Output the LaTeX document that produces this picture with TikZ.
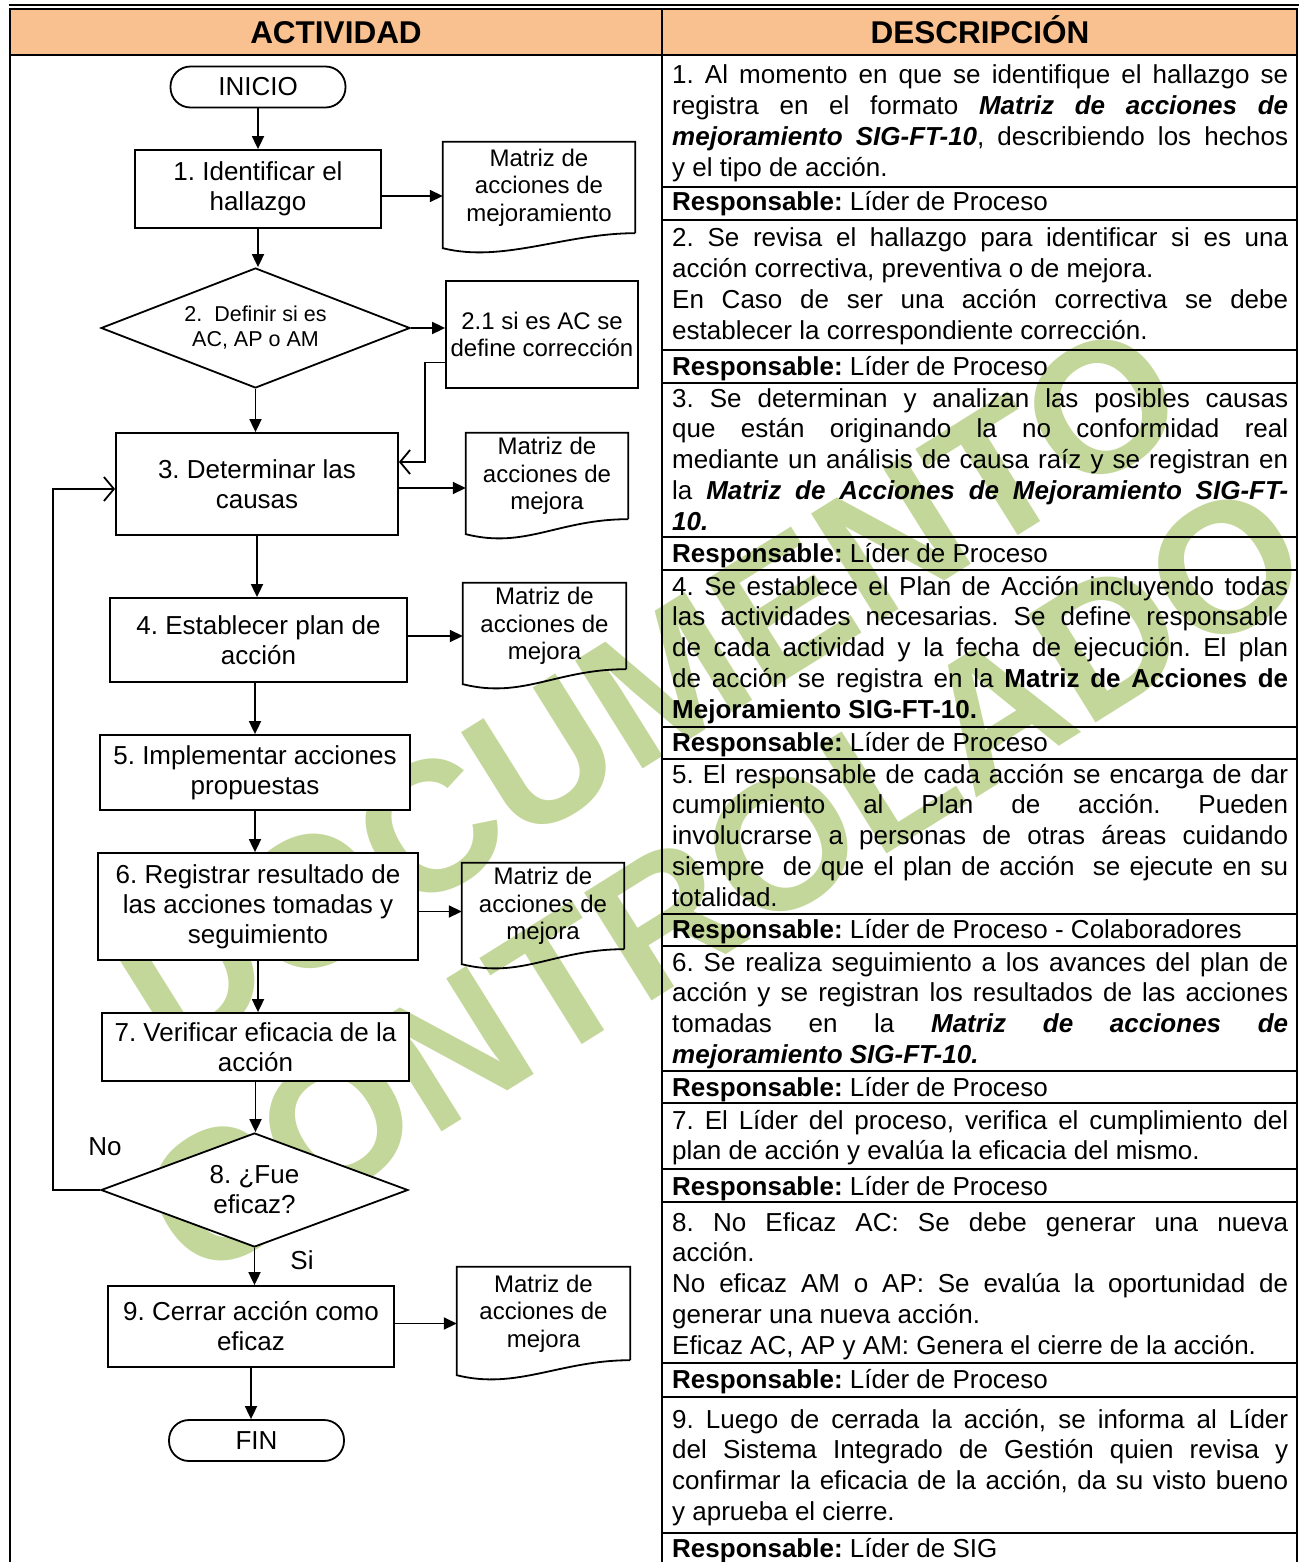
\documentclass[tikz,border=0pt]{standalone}
\usepackage{fontspec}
\setmainfont{Liberation Sans}
\usetikzlibrary{shapes.geometric,arrows.meta}
\definecolor{encabezado}{RGB}{248,193,143}
\definecolor{marca}{RGB}{196,215,155}
\frenchspacing

\newcommand{\documento}[1]{%
	\draw[line width=1.8] (#1.south east) -- (#1.north east) -- (#1.north west) -- ([yshift=-15pt]#1.south west) .. controls +(60,15) and +(-70,0) .. (#1.south east);}

\begin{document}
\begin{tikzpicture}[x=1pt,y=-1pt,
		flujo/.style={font=\fontsize{26}{30}\selectfont, align=center, inner sep=0pt},
		proceso/.style={flujo, draw, fill=white, line width=1.8, rectangle},
		terminal/.style={flujo, draw, fill=white, line width=1.8, rounded corners=20pt, minimum width=175pt, minimum height=41pt},
		decision/.style={flujo, draw, fill=white, line width=1.8, diamond, shape aspect=2.6},
		docu/.style={flujo, font=\fontsize{24}{27.5}\selectfont},
		flecha/.style={line width=1.8, -{Triangle[length=13pt,width=12pt]}},
		retorno/.style={line width=1.8, -{Straight Barb[length=10pt,width=24pt]}},
		cabecera/.style={font=\bfseries\fontsize{31.5}{34}\selectfont, inner sep=0pt, anchor=base},
		desc/.style={anchor=base west, inner sep=0pt, text width=616pt, align=justify, font=\fontsize{26}{30.8}\selectfont}]
	\useasboundingbox (0,0) rectangle (1299,1562);
	
	\node[rotate=32, text=marca, font=\bfseries\fontsize{185}{185}\selectfont] (wm1) at (650,690) {DOCUMENTO};
	\node[rotate=32, text=marca, font=\bfseries\fontsize{185}{185}\selectfont] (wm2) at (725,880) {CONTROLADO};
	
	\fill[encabezado] (10,9) rectangle (1297,55);
	\node[cabecera] (h1) at (336,44) {ACTIVIDAD};
	\node[cabecera] (h2) at (980,44) {DESCRIPCIÓN};
	\draw[line width=2] (9,5.5) -- (1299,5.5);
	\draw[line width=2] (10,1562) -- (10,9) -- (1297,9) -- (1297,1562);
	\draw[line width=2.5] (10,55) -- (1297,55);
	\draw[line width=2] (662,9) -- (662,1562);
	\foreach \y in {187,220,350,383,537,570,727,759,914,946,1071,1103,1169,1202,1363,1397,1533}
		\draw[line width=2] (662,\y) -- (1297,\y);
	
	\node[terminal] (ini) at (258,87) {INICIO};
	\node[proceso, minimum width=246pt, minimum height=78pt] (p1) at (258,189) {1. Identificar el\\hallazgo};
	\node[docu, minimum width=192pt, minimum height=91pt] (m1) at (539,187.5) {Matriz de\\acciones de\\mejoramiento};
	\documento{m1}
	\node[decision, font=\fontsize{21.5}{25}\selectfont, minimum width=309pt, minimum height=120pt] (d2) at (255.5,328) {2.\ \ Definir si es\\AC, AP o AM};
	\node[proceso, font=\fontsize{24}{27.5}\selectfont, minimum width=192pt, minimum height=107pt] (p21) at (542,334.5) {2.1 si es AC se\\define corrección};
	\node[proceso, minimum width=282pt, minimum height=102pt] (p3) at (257,484) {3. Determinar las\\causas};
	\node[docu, minimum width=162pt, minimum height=86pt] (m3) at (547,476) {Matriz de\\acciones de\\mejora};
	\documento{m3}
	\node[proceso, minimum width=297pt, minimum height=84pt] (p4) at (258.5,640) {4. Establecer plan de\\acción};
	\node[docu, minimum width=163pt, minimum height=86pt] (m4) at (544.5,626) {Matriz de\\acciones de\\mejora};
	\documento{m4}
	\node[proceso, minimum width=310pt, minimum height=75pt] (p5) at (255,772.5) {5. Implementar acciones\\propuestas};
	\node[proceso, minimum width=320pt, minimum height=107pt] (p6) at (258,906.5) {6. Registrar resultado de\\las acciones tomadas y\\seguimiento};
	\node[docu, minimum width=162pt, minimum height=86pt] (m6) at (543,906) {Matriz de\\acciones de\\mejora};
	\documento{m6}
	\node[proceso, minimum width=307pt, minimum height=68pt] (p7) at (255.5,1047) {7. Verificar eficacia de la\\acción};
	\node[decision, minimum width=307pt, minimum height=114pt] (d8) at (254.5,1190) {8. ¿Fue\\eficaz?};
	\node[proceso, minimum width=286pt, minimum height=81pt] (p9) at (251,1326.5) {9. Cerrar acción como\\eficaz};
	\node[docu, minimum width=173pt, minimum height=93pt] (m9) at (543.5,1313.5) {Matriz de\\acciones de\\mejora};
	\documento{m9}
	\node[terminal] (fin) at (256.5,1440.5) {FIN};
	\node[flujo] (no) at (105,1147) {No};
	\node[flujo] (si) at (302,1260) {Si};
	
	\draw[flecha] (ini.south) -- (ini.south |- p1.north);
	\draw[flecha] ([yshift=-7pt]p1.east) -- ([yshift=-7pt]p1.east -| m1.west);
	\draw[flecha] (p1.south) -- (p1.south |- d2.north);
	\draw[flecha] (d2.east) -- (d2.east -| p21.west);
	\draw[flecha] (d2.south) -- (d2.south |- p3.north);
	\draw[retorno] ([yshift=-28pt]p21.west) -- ++(-20,0) |- ([yshift=22pt]p3.east);
	\draw[flecha] ([yshift=-4pt]p3.east) -- ([yshift=-4pt]p3.east -| m3.west);
	\draw[flecha] (p3.south) -- (p3.south |- p4.north);
	\draw[flecha] ([yshift=4pt]p4.east) -- ([yshift=4pt]p4.east -| m4.west);
	\draw[flecha] (p5.north |- p4.south) -- (p5.north);
	\draw[flecha] (p5.south) -- (p5.south |- p6.north);
	\draw[flecha] ([yshift=-5pt]p6.east) -- ([yshift=-5pt]p6.east -| m6.west);
	\draw[flecha] (p6.south) -- (p6.south |- p7.north);
	\draw[flecha] (p7.south) -- (p7.south |- d8.north);
	\draw[retorno] (d8.west) -- ++(-47,0) |- ([yshift=-5pt]p3.west);
	\draw[flecha] (d8.south) -- (d8.south |- p9.north);
	\draw[flecha] ([yshift=3pt]p9.east) -- ([yshift=3pt]p9.east -| m9.west);
	\draw[flecha] (p9.south) -- (p9.south |- fin.north);
	
	\node[desc] (t1) at (672,84) {1. Al momento en que se identifique el hallazgo se\linebreak registra en el formato \textbf{\textit{Matriz de acciones de}}\linebreak \textbf{\textit{mejoramiento SIG-FT-10}}, describiendo los hechos\linebreak y el tipo de acción.};
	\node[desc] (r1) at (672,211) {\textbf{Responsable:} Líder de Proceso};
	\node[desc] (t2) at (672,247) {2. Se revisa el hallazgo para identificar si es una\linebreak acción correctiva, preventiva o de mejora.\par En Caso de ser una acción correctiva se debe\linebreak establecer la correspondiente corrección.};
	\node[desc] (r2) at (672,375) {\textbf{Responsable:} Líder de Proceso};
	\node[desc] (t3) at (672,407) {3. Se determinan y analizan las posibles causas\linebreak que están originando la no conformidad real\linebreak mediante un análisis de causa raíz y se registran en\linebreak la \textbf{\textit{Matriz de Acciones de Mejoramiento SIG-FT-}}\linebreak \textbf{\textit{10.}}};
	\node[desc] (r3) at (672,562) {\textbf{Responsable:} Líder de Proceso};
	\node[desc] (t4) at (672,595) {4. Se establece el Plan de Acción incluyendo todas\linebreak las actividades necesarias. Se define responsable\linebreak de cada actividad y la fecha de ejecución. El plan\linebreak de acción se registra en la \textbf{Matriz de Acciones de}\linebreak \textbf{Mejoramiento SIG-FT-10.}};
	\node[desc] (r4) at (672,751) {\textbf{Responsable:} Líder de Proceso};
	\node[desc] (t5) at (672,783) {5. El responsable de cada acción se encarga de dar\linebreak cumplimiento al Plan de acción. Pueden\linebreak involucrarse a personas de otras áreas cuidando\linebreak siempre\ \ de que el plan de acción\ \ se ejecute en su\linebreak totalidad.};
	\node[desc] (r5) at (672,938) {\textbf{Responsable:} Líder de Proceso - Colaboradores};
	\node[desc] (t6) at (672,971) {6. Se realiza seguimiento a los avances del plan de\linebreak acción y se registran los resultados de las acciones\linebreak tomadas en la \textbf{\textit{Matriz de acciones de}}\linebreak \textbf{\textit{mejoramiento SIG-FT-10.}}};
	\node[desc] (r6) at (672,1096) {\textbf{Responsable:} Líder de Proceso};
	\node[desc] (t7) at (672,1129) {7. El Líder del proceso, verifica el cumplimiento del\linebreak plan de acción y evalúa la eficacia del mismo.};
	\node[desc] (r7) at (672,1195) {\textbf{Responsable:} Líder de Proceso};
	\node[desc] (t8) at (672,1231) {8. No Eficaz AC: Se debe generar una nueva\linebreak acción.\par No eficaz AM o AP: Se evalúa la oportunidad de\linebreak generar una nueva acción.\par Eficaz AC, AP y AM: Genera el cierre de la acción.};
	\node[desc] (r8) at (672,1388) {\textbf{Responsable:} Líder de Proceso};
	\node[desc] (t9) at (672,1428) {9. Luego de cerrada la acción, se informa al Líder\linebreak del Sistema Integrado de Gestión quien revisa y\linebreak confirmar la eficacia de la acción, da su visto bueno\linebreak y aprueba el cierre.};
	\node[desc] (r9) at (672,1557) {\textbf{Responsable:} Líder de SIG};
\end{tikzpicture}
\end{document}
